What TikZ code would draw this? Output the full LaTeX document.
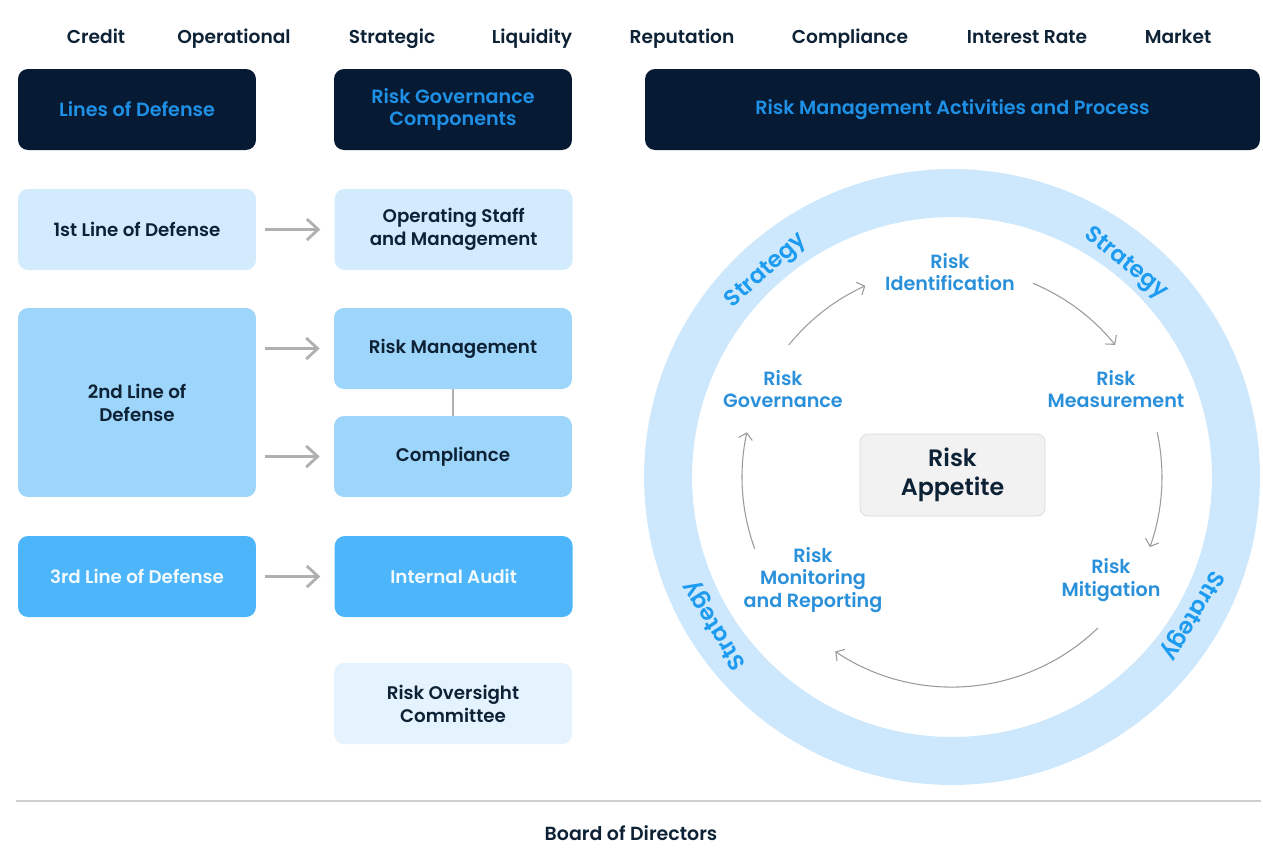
\documentclass[tikz,border=0pt]{standalone}
\usepackage{fontspec}
\setmainfont{Poppins}[UprightFont=* Medium, BoldFont=* SemiBold]
\usetikzlibrary{positioning,arrows.meta,calc}

\definecolor{navy}{HTML}{061A33}
\definecolor{headblue}{HTML}{1E90E6}
\definecolor{boxtext}{HTML}{0E2236}
\definecolor{pale}{HTML}{D3ECFD}
\definecolor{mid}{HTML}{9DD5FB}
\definecolor{strong}{HTML}{4DB6FA}
\definecolor{palest}{HTML}{E4F3FD}
\definecolor{ringblue}{HTML}{CDE8FC}
\definecolor{stageblue}{HTML}{2A90DA}
\definecolor{stratblue}{HTML}{1C9BF0}
\definecolor{arrgray}{HTML}{B0B0B0}
\definecolor{flowgray}{HTML}{9A9A9A}
\definecolor{rulegray}{HTML}{CFCFCF}

\tikzset{
  box/.style = {rounded corners=0.2cm, minimum width=4.76cm, minimum height=1.62cm, align=center, text=boxtext, font=\bfseries\fontsize{10.4}{13}\selectfont},
  head/.style = {box, fill=navy, text=headblue, font=\bfseries\fontsize{10.9}{12.8}\selectfont},
  risk/.style = {anchor=base, text=boxtext, font=\bfseries\fontsize{10.6}{12}\selectfont},
  link/.style = {draw=arrgray, line width=1.6pt, -{Straight Barb[length=6.5pt, width=12pt]}, shorten <=0.18cm, shorten >=0.28cm},
  flow/.style = {draw=flowgray, line width=0.6pt, -{Straight Barb[length=3.5pt, width=8pt]}},
  stage/.style = {align=center, text=stageblue, font=\bfseries\fontsize{10.9}{13}\selectfont},
  strat/.style = {text=stratblue, font=\bfseries\fontsize{13}{14}\selectfont}
}

\begin{document}
\begin{tikzpicture}[x=0.02cm, y=0.02cm]
\useasboundingbox (0,0) rectangle (1263,-860);

\node[risk] (credit) at (96,-43) {Credit};
\node[risk] (oper) at (234,-43) {Operational};
\node[risk] (strg) at (392,-43) {Strategic};
\node[risk] (liq) at (532,-43) {Liquidity};
\node[risk] (rep) at (682,-43) {Reputation};
\node[risk] (comp) at (850,-43) {Compliance};
\node[risk] (irate) at (1027,-43) {Interest Rate};
\node[risk] (mkt) at (1178,-43) {Market};

\node[head] (hlines) at (137,-109.5) {Lines of Defense};
\node[head] (hgov) at (453,-109.5) {Risk Governance\\Components};
\node[head, minimum width=12.3cm] (hproc) at (952.5,-109.5) {Risk Management Activities and Process};

\node[box, fill=pale] (l1) at (137,-229.5) {1st Line of Defense};
\node[box, fill=pale] (g1) [right=1.56cm of l1] {Operating Staff\\and Management};
\node[box, fill=mid, minimum height=3.78cm] (l2) at (137,-402.5) {2nd Line of\\Defense};
\node[box, fill=mid] (rm) at (453,-348.5) {Risk Management};
\node[box, fill=mid] (cp) at (453,-456.5) {Compliance};
\node[box, fill=strong, text=white!92!strong] (l3) at (137,-576.5) {3rd Line of Defense};
\node[box, fill=strong, text=white!92!strong] (ia) [right=1.56cm of l3] {Internal Audit};
\node[box, fill=palest] (ro) at (453,-703.5) {Risk Oversight\\Committee};

\draw[link] (l1) -- (g1);
\draw[link] (l2.east |- rm.west) -- (rm.west);
\draw[link] (l2.east |- cp.west) -- (cp.west);
\draw[link] (l3) -- (ia);
\draw[draw=arrgray, line width=1.1pt] (rm) -- (cp);

\coordinate (ctr) at (952,-477);
\draw[draw=ringblue, line width=0.96cm] (ctr) circle[radius=5.68cm];

\node[strat, rotate=42] (s1) at ($(ctr)+(132:5.54cm)$) {Strategy};
\node[strat, rotate=-39] (s2) at ($(ctr)+(50.8:5.5cm)$) {Strategy};
\node[strat, rotate=-120] (s3) at ($(ctr)+(-29.9:5.54cm)$) {Strategy};
\node[strat, rotate=122] (s4) at ($(ctr)+(212:5.58cm)$) {Strategy};

\node[rounded corners=0.16cm, fill=black!5, draw=black!15, minimum width=3.7cm, minimum height=1.64cm, align=center, text=boxtext, font=\bfseries\fontsize{13.5}{16.5}\selectfont] (app) at (952.5,-475) {Risk\\Appetite};

\node[stage] (ident) at (950,-272) {Risk\\Identification};
\node[stage] (meas) at (1116,-389) {Risk\\Measurement};
\node[stage] (mitig) at (1111,-580) {Risk\\Mitigation};
\node[stage] (monit) at (813,-580) {Risk\\Monitoring\\and Reporting};
\node[stage] (gov) at (783,-389) {Risk\\Governance};

\coordinate (a1) at ($(ctr)+(141:4.2cm)$);
\coordinate (a2) at ($(ctr)+(67.3:4.2cm)$);
\coordinate (a3) at ($(ctr)+(12.3:4.2cm)$);
\coordinate (a4) at ($(ctr)+(-46:4.2cm)$);
\coordinate (a5) at ($(ctr)+(200:4.2cm)$);
\draw[flow] (a1) arc[start angle=141, end angle=114.4, radius=4.2cm];
\draw[flow] (a2) arc[start angle=67.3, end angle=39, radius=4.2cm];
\draw[flow] (a3) arc[start angle=12.3, end angle=-19.5, radius=4.2cm];
\draw[flow] (a4) arc[start angle=-46, end angle=-123.8, radius=4.2cm];
\draw[flow] (a5) arc[start angle=200, end angle=167.7, radius=4.2cm];

\coordinate (r1) at (16,-801);
\coordinate (r2) at (1261,-801);
\draw[draw=rulegray, line width=1.2pt] (r1) -- (r2);
\node[risk, anchor=center, font=\bfseries\fontsize{10.8}{12}\selectfont] (board) at (631,-833) {Board of Directors};
\end{tikzpicture}
\end{document}
